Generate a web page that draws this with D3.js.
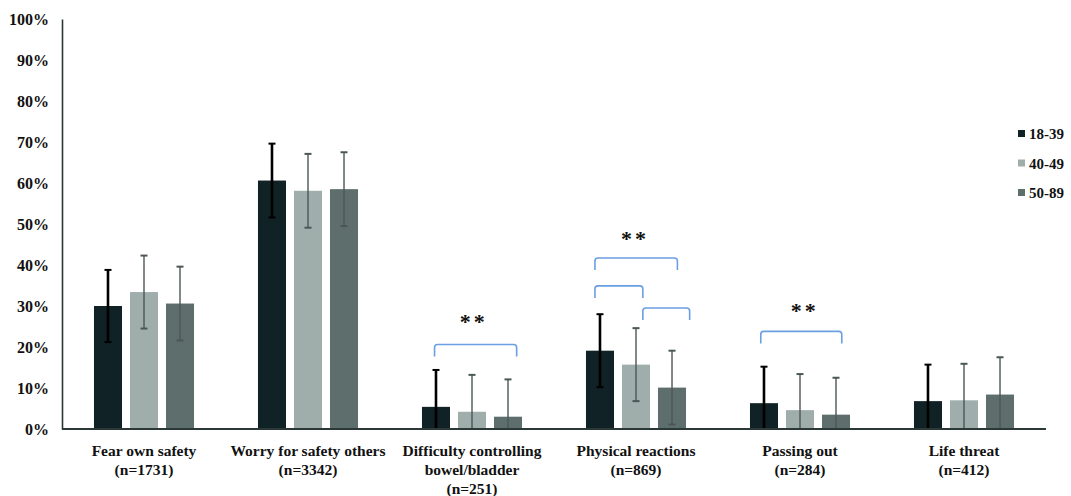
<!DOCTYPE html>
<html>
<head>
<meta charset="utf-8">
<script src="https://cdn.jsdelivr.net/npm/d3@7"></script>
<style>
  body { margin: 0; background: #fff; }
  svg { display: block; }
  text { font-family: "Liberation Serif", "Times New Roman", serif; font-weight: bold; fill: #111; }
</style>
</head>
<body>
<div id="chart"></div>
<script>
// categories (two/three line labels)
const categories = [
  ["Fear own safety", "(n=1731)"],
  ["Worry for safety others", "(n=3342)"],
  ["Difficulty controlling", "bowel/bladder", "(n=251)"],
  ["Physical reactions", "(n=869)"],
  ["Passing out", "(n=284)"],
  ["Life threat", "(n=412)"]
];
const seriesNames = ["18-39", "40-49", "50-89"];

// percentages per age group, one entry per category
const age18to39 = [30.0, 60.6, 5.4, 19.1, 6.3, 6.8];
const age40to49 = [33.4, 58.1, 4.2, 15.7, 4.6, 7.0];
const age50to89 = [30.6, 58.5, 3.0, 10.1, 3.5, 8.4];

// error half-widths (percentage points)
const err18to39 = [8.8, 9.0, 9.0, 8.9, 8.9, 8.9];
const err40to49 = [8.9, 9.0, 9.0, 8.9, 8.8, 8.9];
const err50to89 = [9.0, 9.0, 9.1, 9.0, 9.0, 9.1];

const yTicks = [0, 10, 20, 30, 40, 50, 60, 70, 80, 90, 100];

// significance brackets: category index, from/to (bar positions), level in %
const brackets = [
  { group: 2, from: -0.04, to: 2.24, level: 20.6 },
  { group: 3, from: -0.14, to: 2.15, level: 41.7 },
  { group: 3, from: -0.14, to: 1.19, level: 34.9 },
  { group: 3, from: 1.19, to: 2.49, level: 29.5 },
  { group: 4, from: -0.09, to: 2.16, level: 23.8 }
];
const stars = [
  { group: 2, pos: 1.05, level: 27.1 },
  { group: 3, pos: 0.97, level: 47.3 },
  { group: 4, pos: 1.13, level: 29.7 }
];

const colors = ["#102226", "#9fadab", "#5e6e6d"];
const errColors = ["#000000", "#4b5757", "#4b5757"];
const errWidths = [2.6, 1.4, 1.4];

const values = [age18to39, age40to49, age50to89];
const errors = [err18to39, err40to49, err50to89];

const width = 1071, height = 496;
const svg = d3.select("#chart").append("svg")
  .attr("width", width)
  .attr("height", height);

const x0 = d3.scaleBand()
  .domain(d3.range(categories.length))
  .range([62, 1046])
  .paddingInner(0.39)
  .paddingOuter(0.195);

const x1 = d3.scaleBand()
  .domain(d3.range(seriesNames.length))
  .range([0, x0.bandwidth()])
  .paddingInner(0.222)
  .paddingOuter(0);

const y = d3.scaleLinear()
  .domain([0, 100])
  .range([429, 19]);

// bar position helper: fractional series index -> pixel
function barX(group, pos) {
  return x0(group) + x1.step() * pos + x1.bandwidth() / 2;
}

// bars
for (let s = 0; s < seriesNames.length; s++) {
  svg.append("g")
    .selectAll("rect")
    .data(values[s])
    .join("rect")
    .attr("x", (d, i) => x0(i) + x1(s))
    .attr("y", d => y(d))
    .attr("width", x1.bandwidth())
    .attr("height", d => y(0) - y(d))
    .attr("fill", colors[s]);
}

// error bars
for (let s = 0; s < seriesNames.length; s++) {
  const g = svg.append("g")
    .attr("stroke", errColors[s])
    .attr("stroke-width", errWidths[s]);
  values[s].forEach((v, i) => {
    const cx = x0(i) + x1(s) + x1.bandwidth() / 2;
    const top = y(v + errors[s][i]);
    const bot = y(Math.max(0, v - errors[s][i]));
    g.append("line").attr("x1", cx).attr("x2", cx).attr("y1", top).attr("y2", bot);
    g.append("line").attr("x1", cx - 3.5).attr("x2", cx + 3.5).attr("y1", top).attr("y2", top).attr("stroke-width", 2);
    if (v - errors[s][i] > 0) {
      g.append("line").attr("x1", cx - 3.5).attr("x2", cx + 3.5).attr("y1", bot).attr("y2", bot).attr("stroke-width", 2);
    }
  });
}

// axes
const yAxis = d3.axisLeft(y)
  .tickValues(yTicks)
  .tickSize(0)
  .tickPadding(13)
  .tickFormat(d => d + "%");
svg.append("g")
  .attr("transform", "translate(62,0)")
  .call(yAxis)
  .call(g => g.select(".domain").attr("stroke", "#2b3838").attr("stroke-width", 1.6))
  .call(g => g.selectAll("text")
    .attr("font-family", "Liberation Serif, serif")
    .attr("font-weight", "bold")
    .attr("font-size", 16)
    .attr("fill", "#111"));

svg.append("line")
  .attr("x1", 62).attr("x2", 1046)
  .attr("y1", y(0)).attr("y2", y(0))
  .attr("stroke", "#2b3838")
  .attr("stroke-width", 2);

// category labels
const labels = svg.append("g");
categories.forEach((lines, i) => {
  const t = labels.append("text")
    .attr("text-anchor", "middle")
    .attr("font-size", 15.5)
    .attr("x", x0(i) + x0.bandwidth() / 2)
    .attr("y", 456);
  lines.forEach((ln, j) => {
    t.append("tspan")
      .attr("x", x0(i) + x0.bandwidth() / 2)
      .attr("dy", j === 0 ? 0 : 19)
      .text(ln);
  });
});

// brackets
const bracketDrop = 12;
const r = 3;
svg.append("g")
  .selectAll("path")
  .data(brackets)
  .join("path")
  .attr("fill", "none")
  .attr("stroke", "#6a9fe2")
  .attr("stroke-width", 1.6)
  .attr("d", b => {
    const xa = barX(b.group, b.from), xb = barX(b.group, b.to), yt = y(b.level);
    return `M${xa},${yt + bracketDrop} L${xa},${yt + r} Q${xa},${yt} ${xa + r},${yt}`
      + ` L${xb - r},${yt} Q${xb},${yt} ${xb},${yt + r} L${xb},${yt + bracketDrop}`;
  });

svg.append("g")
  .selectAll("text")
  .data(stars)
  .join("text")
  .attr("x", s => barX(s.group, s.pos))
  .attr("y", s => y(s.level) + 11)
  .attr("text-anchor", "middle")
  .attr("font-family", "DejaVu Sans, sans-serif")
  .attr("font-size", 22)
  .attr("letter-spacing", 3)
  .text("**");

// legend
const legend = svg.append("g");
seriesNames.forEach((name, i) => {
  const ly = 134 + i * 29.5;
  legend.append("rect")
    .attr("x", 1018).attr("y", ly - 4)
    .attr("width", 7).attr("height", 7)
    .attr("fill", colors[i]);
  legend.append("text")
    .attr("x", 1029).attr("y", ly + 5)
    .attr("font-size", 15)
    .text(name);
});
</script>
</body>
</html>
